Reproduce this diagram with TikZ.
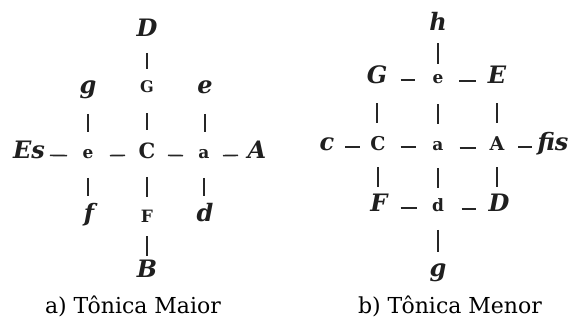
\documentclass[tikz,border=0pt]{standalone}
\usepackage{fontspec}
\setmainfont{DejaVu Serif}
\newfontfamily\capfont{DejaVu Serif}
\begin{document}
\begin{tikzpicture}[x=1pt,y=-1pt,
  note/.style={inner sep=0pt, text height=0.72em, text depth=0pt, anchor=center,
    font=\fontsize{24}{24}\selectfont\bfseries\itshape, text=black!88},
  smallnote/.style={inner sep=0pt, text height=0.72em, text depth=0pt, anchor=center,
    font=\fontsize{19}{19}\selectfont\bfseries, text=black!88},
  tiny/.style={inner sep=0pt, text height=0.52em, text depth=0pt, anchor=center,
    font=\fontsize{17}{17}\selectfont\bfseries, text=black!88},
  conn/.style={line width=1.7pt, black!85, shorten <=#1, shorten >=#1},
  caption/.style={anchor=base, inner sep=0pt, font=\capfont\fontsize{22}{22}\selectfont}]
\useasboundingbox (0,0) rectangle (568,320);
% ---------- a) Tonica Maior ----------
\node[note] (aD) at (147,33) {D};
\node[smallnote,font=\fontsize{16}{16}\selectfont\bfseries] (aG) at (147,89) {G};
\node[note] (ag) at (88,90) {g};
\node[note] (ae) at (205,90) {e};
\node[note] (aEs) at (29,155) {Es};
\node[tiny] (ae2) at (88,156) {e};
\node[smallnote,font=\fontsize{21}{21}\selectfont\bfseries] (aC) at (147,155) {C};
\node[tiny] (aa) at (204,156) {a};
\node[note] (aA) at (257,155) {A};
\node[note] (af) at (89,218) {f};
\node[smallnote,font=\fontsize{17}{17}\selectfont\bfseries] (aF) at (147,219) {F};
\node[note] (ad) at (205,218) {d};
\node[note] (aB) at (147,274) {B};
\node[caption] at (133,314) {a) Tônica Maior};
% horizontal
\draw[conn=21] (aEs.center) -- (ae2.center);
\draw[conn=22] (ae2.center) -- (aC.center);
\draw[conn=21] (aC.center) -- (aa.center);
\draw[conn=19] (aa.center) -- (aA.center);
% vertical
\draw[conn=20] (aD.center) -- (aG.center);
\draw[conn=24.5] (aG.center) -- (aC.center);
\draw[conn=22] (aC.center) -- (aF.center);
\draw[conn=17.5] (aF.center) -- (aB.center);
\draw[conn=24] (ag.center) -- (ag.center |- ae2.center);
\draw[conn=22] (ae2.center) -- (ae2.center |- af.center);
\draw[conn=24] (ae.center) -- (ae.center |- aa.center);
\draw[conn=22] (aa.center) -- (aa.center |- ad.center);
% ---------- b) Tonica Menor ----------
\node[note] (bh) at (438,27) {h};
\node[note] (bG) at (377,80) {G};
\node[tiny] (be) at (438,81) {e};
\node[note] (bE) at (497,80) {E};
\node[note] (bc) at (327,147) {c};
\node[smallnote] (bC) at (378,147) {C};
\node[tiny] (ba) at (438,148) {a};
\node[smallnote] (bA) at (497,147) {A};
\node[note] (bfis) at (553,147) {fis};
\node[note] (bF) at (379,208) {F};
\node[tiny] (bd) at (438,209) {d};
\node[note] (bDD) at (499,208) {D};
\node[note] (bg) at (438,273) {g};
\node[caption] at (450,314) {b) Tônica Menor};
% horizontal
\draw[conn=23.5] (bG.center) -- (bG.center -| be.center);
\draw[conn=21] (be.center) -- (be.center -| bE.center);
\draw[conn=18] (bc.center) -- (bc.center -| bC.center);
\draw[conn=22.5] (bC.center) -- (bC.center -| ba.center);
\draw[conn=21.5] (ba.center) -- (ba.center -| bA.center);
\draw[conn=21] (bA.center) -- (bA.center -| bfis.center);
\draw[conn=21.5] (bF.center) -- (bF.center -| bd.center);
\draw[conn=23.5] (bd.center) -- (bd.center -| bDD.center);
% vertical
\draw[conn=16.5] (bh.center) -- (be.center);
\draw[conn=23.5] (be.center) -- (ba.center);
\draw[conn=23.5] (bG.center) -- (bG.center |- bC.center);
\draw[conn=23.5] (bE.center) -- (bA.center);
\draw[conn=20.5] (bC.center) -- (bC.center |- bF.center);
\draw[conn=20.5] (ba.center) -- (bd.center);
\draw[conn=20.5] (bA.center) -- (bA.center |- bDD.center);
\draw[conn=21] (bd.center) -- (bg.center);
\end{tikzpicture}
\end{document}
